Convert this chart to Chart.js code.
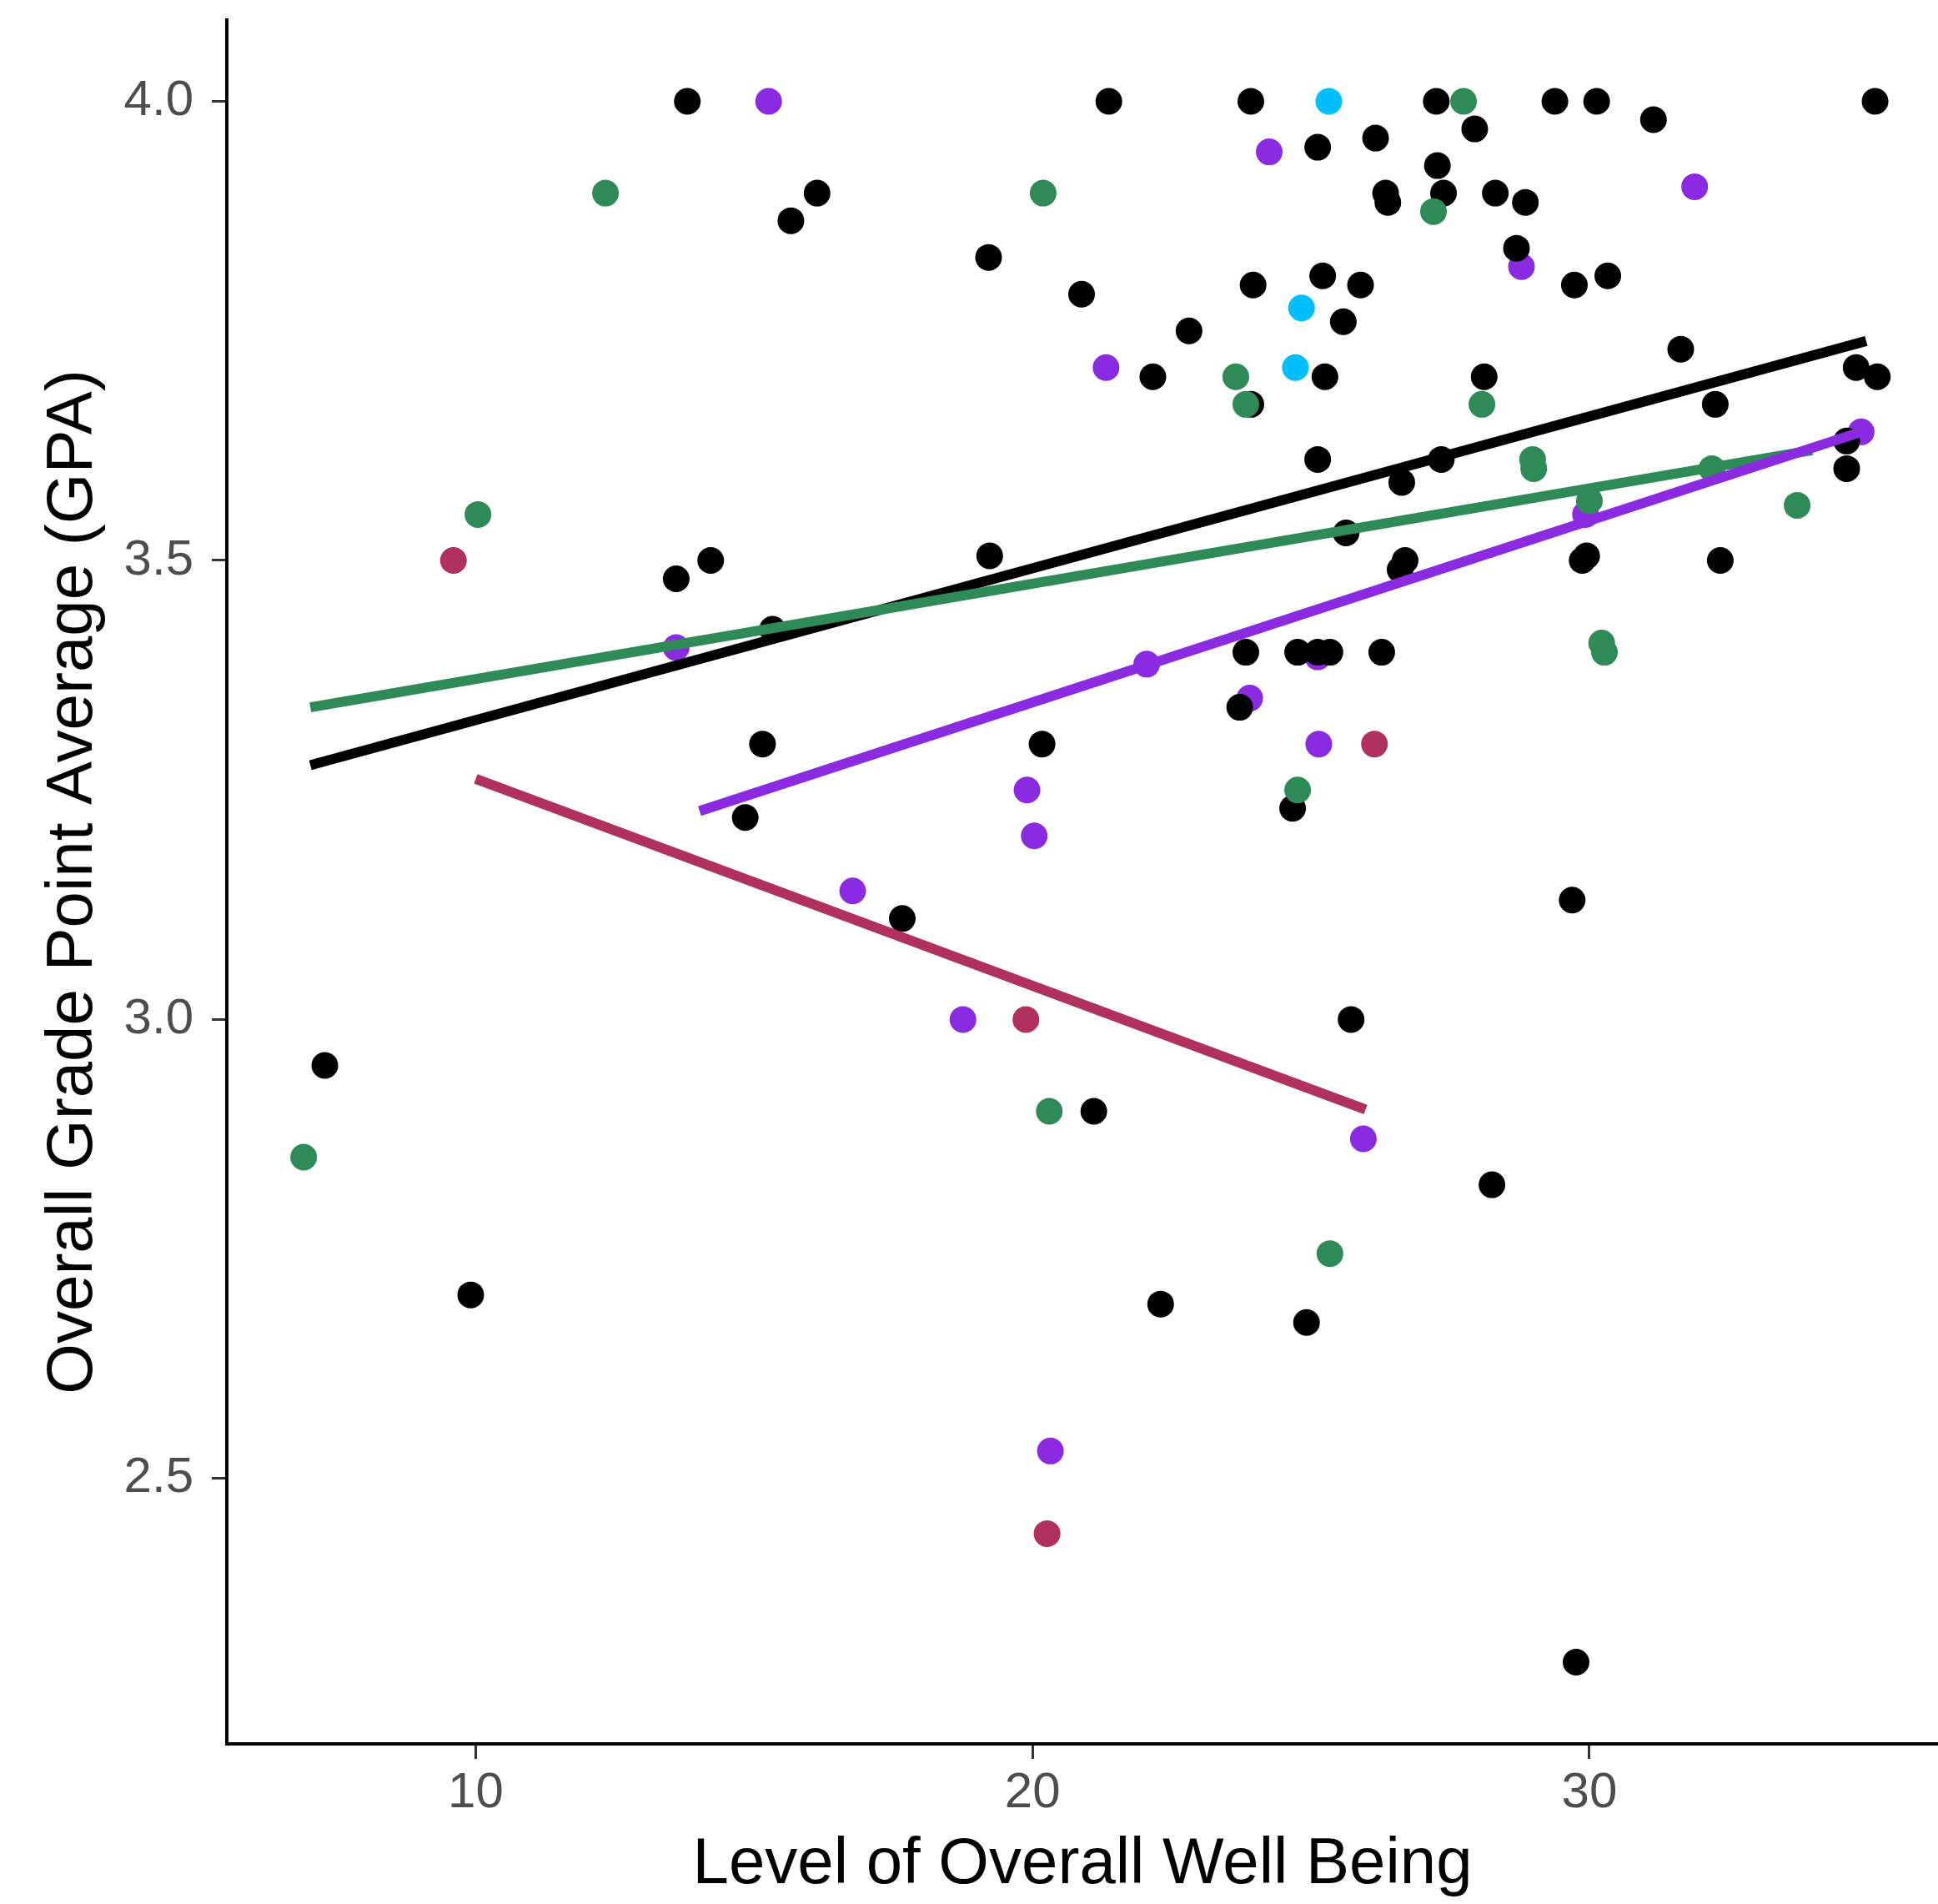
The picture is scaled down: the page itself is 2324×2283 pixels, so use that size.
<!DOCTYPE html>
<html>
<head>
<meta charset="utf-8">
<script src="https://cdn.jsdelivr.net/npm/chart.js@4.4.1/dist/chart.umd.min.js"></script>
<style>
  html, body { margin: 0; padding: 0; background: #ffffff; }
  canvas { display: block; }
</style>
</head>
<body>
<canvas id="c" width="2324" height="2283"></canvas>
<script>
// ---- Data ----
const blackX = [13.80,15.66,16.13,19.21,20.88,21.37,22.81,22.16,23.92,23.96,23.92,25.12,25.21,25.25,25.58,25.89,26.16,26.34,26.38,27.25,27.27,27.38,27.94,28.31,28.85,28.69,28.11,29.38,30.13,31.15,29.73,30.33,35.13,31.64,32.26,34.79,35.17,34.62,34.62,32.35,29.87,29.95,25.12,27.34,26.63,26.69,26.60,25.63,23.83,24.76,25.12,25.34,26.27,23.72,20.17,19.23,14.22,13.60,15.33,15.15,14.84,17.66,24.67,29.69,25.72,21.10,28.25,7.29,9.91,22.30,24.92,29.76];
const blackY = [4.00,3.87,3.90,3.83,3.79,4.00,3.75,3.70,4.00,3.80,3.67,3.95,3.81,3.70,3.76,3.80,3.96,3.90,3.89,4.00,3.93,3.90,3.97,3.90,3.89,3.84,3.70,4.00,4.00,3.98,3.80,3.81,4.00,3.73,3.67,3.71,3.70,3.63,3.60,3.50,3.50,3.505,3.61,3.61,3.585,3.50,3.49,3.53,3.40,3.40,3.40,3.40,3.40,3.34,3.30,3.505,3.50,3.48,3.425,3.30,3.22,3.11,3.23,3.13,3.00,2.90,2.82,2.95,2.70,2.69,2.67,2.30];

const greenX = [12.33,10.04,6.91,20.19,23.65,23.83,27.74,27.20,28.07,28.98,29.00,30.00,32.20,33.73,30.22,30.27,24.76,20.30,25.34];
const greenY = [3.90,3.55,2.85,3.90,3.70,3.67,4.00,3.88,3.67,3.61,3.60,3.565,3.60,3.56,3.41,3.40,3.25,2.90,2.745];

const purpleX = [15.26,24.25,31.89,28.78,21.32,13.60,22.05,23.90,25.12,25.14,19.90,20.03,16.77,18.75,25.94,20.32,29.93,34.88];
const purpleY = [4.00,3.945,3.907,3.82,3.71,3.405,3.387,3.35,3.395,3.30,3.25,3.20,3.14,3.00,2.87,2.53,3.55,3.64];

const cyanX = [25.32,24.83,24.72];
const cyanY = [4.00,3.775,3.71];

const maroonX = [9.60,19.88,26.14,20.26];
const maroonY = [3.50,3.00,3.30,2.44];

// fitted regression lines (end points)
const blackFitX = [7.03, 34.97];
const blackFitY = [3.277, 3.739];
const greenFitX = [7.03, 34.00];
const greenFitY = [3.340, 3.620];
const purpleFitX = [14.02, 34.88];
const purpleFitY = [3.227, 3.640];
const maroonFitX = [10.00, 25.98];
const maroonFitY = [3.262, 2.902];

const xTicks = [10, 20, 30];
const yTicks = [2.5, 3.0, 3.5, 4.0];

// ---- Build chart ----
const FONT = "'Liberation Sans', Arial, Helvetica, sans-serif";
const pts = (xs, ys) => xs.map((x, i) => ({ x: x, y: ys[i] }));

function pointSet(xs, ys, color) {
  return {
    type: 'scatter',
    data: pts(xs, ys),
    backgroundColor: color,
    borderColor: color,
    borderWidth: 0,
    pointRadius: 16,
    pointHoverRadius: 16,
    showLine: false
  };
}
function lineSet(xs, ys, color) {
  return {
    type: 'line',
    data: pts(xs, ys),
    borderColor: color,
    backgroundColor: color,
    borderWidth: 12,
    borderCapStyle: 'butt',
    pointRadius: 0,
    pointHoverRadius: 0,
    fill: false,
    tension: 0
  };
}

const C_BLACK = '#000000';
const C_GREEN = '#2E8B57';
const C_PURPLE = '#8A2BE2';
const C_CYAN = '#00BFFF';
const C_MAROON = '#B03060';

// first dataset is drawn on top
const datasets = [
  lineSet(maroonFitX, maroonFitY, C_MAROON),
  lineSet(purpleFitX, purpleFitY, C_PURPLE),
  lineSet(greenFitX, greenFitY, C_GREEN),
  lineSet(blackFitX, blackFitY, C_BLACK),
  pointSet(maroonX, maroonY, C_MAROON),
  pointSet(cyanX, cyanY, C_CYAN),
  pointSet(greenX, greenY, C_GREEN),
  pointSet(blackX, blackY, C_BLACK),
  pointSet(purpleX, purpleY, C_PURPLE)
];

new Chart(document.getElementById('c'), {
  type: 'scatter',
  data: { datasets: datasets },
  options: {
    responsive: false,
    animation: false,
    events: [],
    layout: { autoPadding: false, padding: { top: 24, left: 0, right: 0, bottom: 0 } },
    plugins: { legend: { display: false }, tooltip: { enabled: false } },
    scales: {
      x: {
        type: 'linear',
        min: 5.53,
        max: 36.26,
        afterBuildTicks: s => { s.ticks = xTicks.map(v => ({ value: v })); },
        afterFit: s => { s.height = 192; s.paddingLeft = 0; s.paddingRight = 0; },
        ticks: {
          font: { family: FONT, size: 60 },
          color: '#4D4D4D',
          padding: 5,
          maxRotation: 0,
          autoSkip: false,
          callback: v => String(v)
        },
        grid: {
          display: true,
          drawOnChartArea: false,
          drawTicks: true,
          tickLength: 18,
          tickColor: '#333333',
          tickWidth: 3
        },
        border: { display: true, color: '#000000', width: 4 },
        title: {
          display: true,
          text: 'Level of Overall Well Being',
          font: { family: FONT, size: 78 },
          color: '#000000',
          padding: { top: 0, bottom: 0 }
        }
      },
      y: {
        type: 'linear',
        min: 2.211,
        max: 4.0886,
        afterBuildTicks: s => { s.ticks = yTicks.map(v => ({ value: v })); },
        afterFit: s => { s.width = 272; s.paddingTop = 0; s.paddingBottom = 0; },
        ticks: {
          font: { family: FONT, size: 60 },
          color: '#4D4D4D',
          padding: 22,
          autoSkip: false,
          callback: v => Number(v).toFixed(1)
        },
        grid: {
          display: true,
          drawOnChartArea: false,
          drawTicks: true,
          tickLength: 18,
          tickColor: '#333333',
          tickWidth: 3
        },
        border: { display: true, color: '#000000', width: 4 },
        title: {
          display: true,
          text: 'Overall Grade Point Average (GPA)',
          font: { family: FONT, size: 78 },
          color: '#000000',
          padding: { top: 42, bottom: 0 }
        }
      }
    }
  }
});
</script>
</body>
</html>
